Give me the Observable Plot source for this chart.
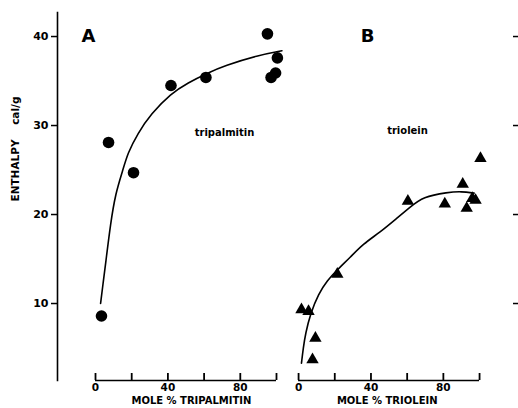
<!DOCTYPE html>
<html><head><meta charset="utf-8">
<script src="https://cdn.jsdelivr.net/npm/d3@7"></script>
<script src="https://cdn.jsdelivr.net/npm/@observablehq/plot@0.6"></script>
<style>
html,body{margin:0;padding:0;background:#fff;}
#chart svg{display:block;}
</style></head><body><div id="chart"></div>
<script>
// ---- data ----
const tripalmitinMole      = [3.3, 7.2, 21, 41.7, 61, 95, 100.5, 97, 99.5];
const tripalmitinEnthalpy  = [8.6, 28.1, 24.7, 34.5, 35.4, 40.3, 37.6, 35.4, 35.9];
const trioleinMole         = [1.6, 5.5, 9.3, 7.7, 21.4, 60.4, 80.8, 90.7, 96, 92.9, 97.8, 100.5];
const trioleinEnthalpy     = [9.3, 9.1, 6.1, 3.7, 13.3, 21.5, 21.2, 23.4, 21.8, 20.7, 21.6, 26.3];
// hand-drawn fitted curves
const tripalmitinCurveMole     = [2.8, 4.2, 5.6, 8.3, 11.1, 15, 17.8, 23.3, 30.6, 41.7, 51, 62, 71, 90, 103];
const tripalmitinCurveEnthalpy = [10.0, 12.3, 14.5, 19.0, 22.4, 24.9, 26.9, 29.1, 31.3, 33.6, 34.8, 35.9, 36.7, 37.9, 38.4];
const trioleinCurveMole        = [1.6, 2.6, 3.8, 6.6, 11, 15.9, 20.9, 28.6, 35.7, 45, 54.4, 61.5, 68.7, 82.4, 90, 97];
const trioleinCurveEnthalpy    = [3.3, 5.0, 6.6, 8.9, 11.1, 12.6, 13.7, 15.2, 16.7, 18.0, 19.6, 20.8, 22.0, 22.5, 22.6, 22.4];
// axes
const xTicks = [0, 20, 40, 60, 80, 100];
const xTickLabels = ["0", "", "40", "", "80", ""];
const yTicks = [10, 20, 30, 40];
const panelLabels = ["A", "B"];
const lipidNames = ["tripalmitin", "triolein"];
const xTitles = ["MOLE % TRIPALMITIN", "MOLE % TRIOLEIN"];
const yTitle = "ENTHALPY\u00a0\u00a0\u00a0\u00a0cal/g";

// ---- layout: both panels share one x scale, panel B shifted ----
const offsets = [0, 112.2];
const xDomain = [-21, 230.4];
const yDomain = [1.35, 42.7];
const W = 518, H = 408, mT = 12, mB = 28, tickLen = 7;
const tickLenData = tickLen * (yDomain[1] - yDomain[0]) / (H - mT - mB);

const pts = (xs, ys, off) => xs.map((x, i) => ({x: x + off, y: ys[i]}));
const A = pts(tripalmitinMole, tripalmitinEnthalpy, offsets[0]);
const B = pts(trioleinMole, trioleinEnthalpy, offsets[1]);
const curveA = pts(tripalmitinCurveMole, tripalmitinCurveEnthalpy, offsets[0]);
const curveB = pts(trioleinCurveMole, trioleinCurveEnthalpy, offsets[1]);

const allTicks = offsets.flatMap(o => xTicks.map(t => ({x: t + o, y1: yDomain[0], y2: yDomain[0] + tickLenData})));
const labelMap = new Map();
offsets.forEach(o => xTicks.forEach((t, i) => { if (xTickLabels[i]) labelMap.set(t + o, xTickLabels[i]); }));
const axisLines = offsets.map(o => ({y: yDomain[0], x1: d3.min(xTicks) + o, x2: d3.max(xTicks) + o}));

const annotations = [
  {x: -3.9 + offsets[0], y: 40, text: panelLabels[0], size: 18},
  {x: 38.1 + offsets[1], y: 40, text: panelLabels[1], size: 18},
  {x: 71.3 + offsets[0], y: 29.2, text: lipidNames[0], size: 10},
  {x: 60.2 + offsets[1], y: 29.4, text: lipidNames[1], size: 10}
];
const titles = [
  {x: 53 + offsets[0], text: xTitles[0]},
  {x: 49 + offsets[1], text: xTitles[1]}
];

const chart = Plot.plot({
  width: W, height: H,
  marginLeft: 57, marginRight: 6, marginTop: mT, marginBottom: mB,
  style: {fontFamily: "'DejaVu Sans', sans-serif", fontWeight: "bold", fontSize: "11px", background: "#fff", color: "#000"},
  x: {domain: xDomain},
  y: {domain: yDomain},
  marks: [
    Plot.frame({anchor: "left", strokeWidth: 1.6}),
    Plot.axisY({anchor: "left", ticks: yTicks, tickSize: 6, tickPadding: 3, strokeWidth: 1.5, label: null}),
    Plot.axisY({anchor: "right", ticks: yTicks, tickSize: 6, tickFormat: () => "", strokeWidth: 1.5, label: null}),
    Plot.text([yTitle], {frameAnchor: "left", dx: -42, dy: 5, rotate: -90, fontSize: 10.5, fontWeight: "bold"}),
    Plot.ruleY(axisLines, {y: "y", x1: "x1", x2: "x2", strokeWidth: 1.6}),
    Plot.ruleX(allTicks, {x: "x", y1: "y1", y2: "y2", strokeWidth: 1.8, stroke: "#000"}),
    Plot.axisX({ticks: [...labelMap.keys()], tickSize: 0, tickPadding: 3, fontSize: 10.5, tickFormat: d => labelMap.get(d), label: null}),
    Plot.text(titles, {x: "x", text: "text", frameAnchor: "bottom", dy: 23, fontSize: 10, fontWeight: "bold"}),
    Plot.line(curveA, {x: "x", y: "y", curve: "basis", strokeWidth: 1.6}),
    Plot.line(curveB, {x: "x", y: "y", curve: "basis", strokeWidth: 1.6}),
    Plot.dot(A, {x: "x", y: "y", r: 5.8, fill: "#000"}),
    Plot.dot(B, {x: "x", y: "y", r: 4.6, symbol: "triangle", fill: "#000"}),
    Plot.text(annotations, {x: "x", y: "y", text: "text", fontSize: "size", fontWeight: "bold"})
  ]
});
document.getElementById("chart").append(chart);
</script></body></html>
